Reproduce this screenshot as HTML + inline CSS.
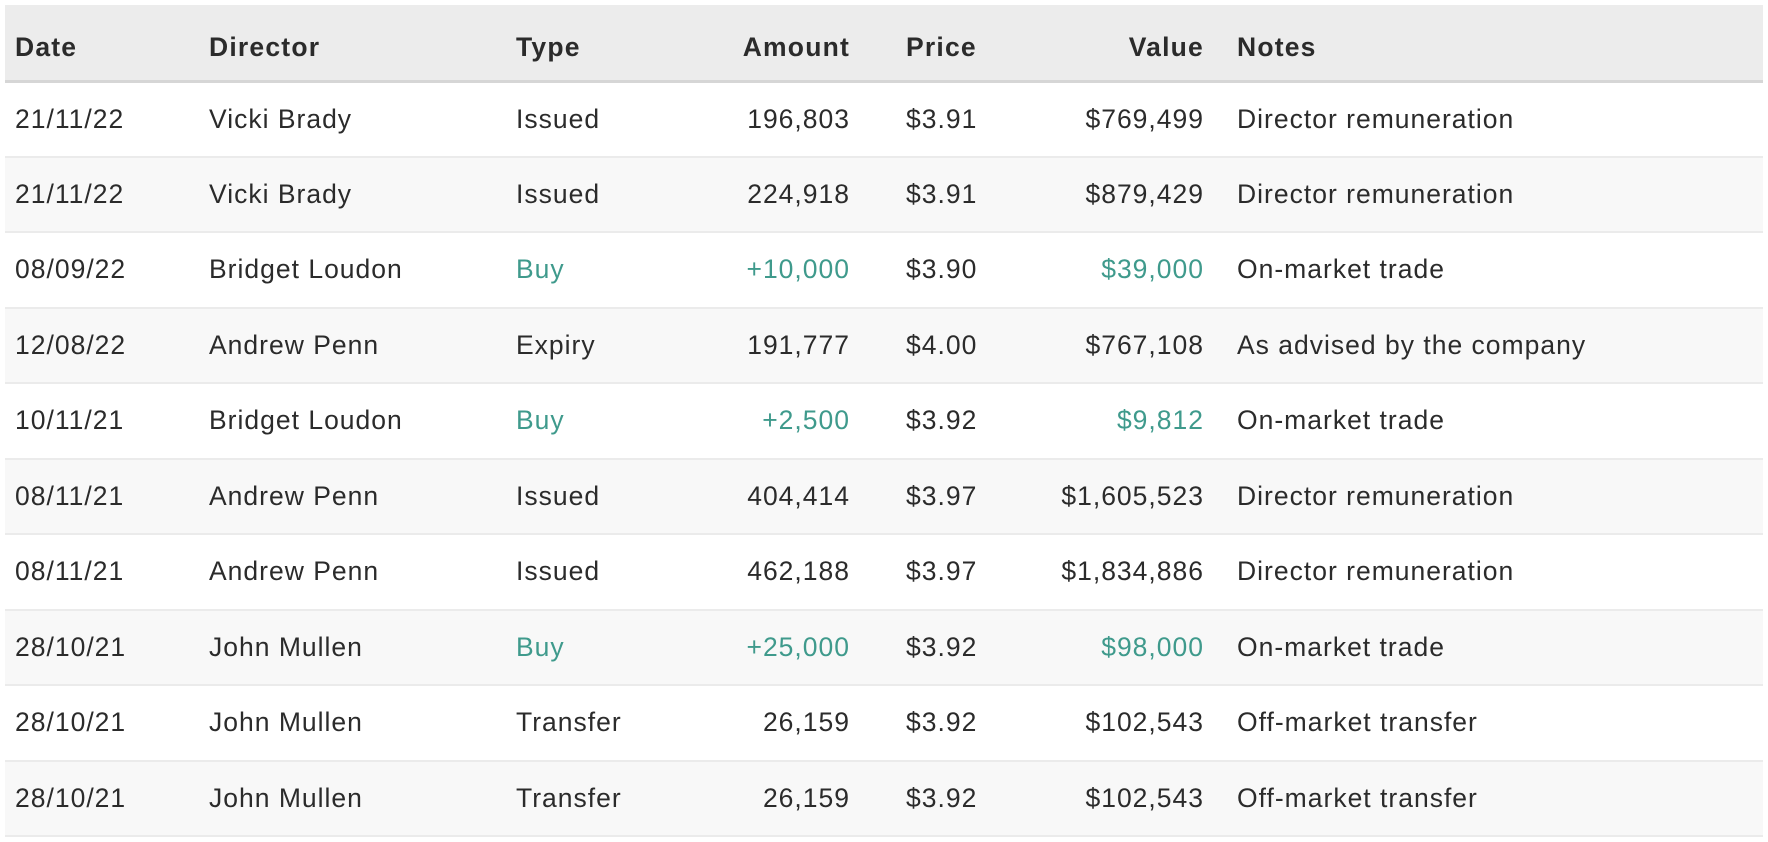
<!DOCTYPE html>
<html><head><style>
body{margin:0;background:#fff;width:1768px;height:842px;overflow:hidden;font-family:"Liberation Sans",sans-serif;color:#2b2b2b}
table{position:absolute;left:5px;top:5px;width:1758px;border-collapse:collapse;font-size:26.5px;letter-spacing:1px}
th,td{padding:0;white-space:nowrap}
thead tr{height:76px;background:#ececec;border-bottom:3px solid #d6d6d6}
th{font-weight:bold;text-align:left;letter-spacing:1.2px;padding-top:11px}
tbody tr{height:75.5px;border-bottom:2px solid #ebebeb}
tbody tr:nth-child(even){background:#f8f8f8}
.c1{padding-left:10px;width:194px}
.c2{width:307px}
.c3{width:206px}
.c4{width:128px;text-align:right}
.c5{padding-left:56px;width:100px}
.c6{width:198px;text-align:right}
.c7{padding-left:33px}
.g{color:#3f9a8c}
</style></head><body>
<table>
<thead><tr><th class="c1">Date</th><th class="c2">Director</th><th class="c3">Type</th><th class="c4">Amount</th><th class="c5">Price</th><th class="c6">Value</th><th class="c7">Notes</th></tr></thead>
<tbody>
<tr><td class="c1">21/11/22</td><td class="c2">Vicki Brady</td><td class="c3">Issued</td><td class="c4">196,803</td><td class="c5">$3.91</td><td class="c6">$769,499</td><td class="c7">Director remuneration</td></tr>
<tr><td class="c1">21/11/22</td><td class="c2">Vicki Brady</td><td class="c3">Issued</td><td class="c4">224,918</td><td class="c5">$3.91</td><td class="c6">$879,429</td><td class="c7">Director remuneration</td></tr>
<tr><td class="c1">08/09/22</td><td class="c2">Bridget Loudon</td><td class="c3 g">Buy</td><td class="c4 g">+10,000</td><td class="c5">$3.90</td><td class="c6 g">$39,000</td><td class="c7">On-market trade</td></tr>
<tr><td class="c1">12/08/22</td><td class="c2">Andrew Penn</td><td class="c3">Expiry</td><td class="c4">191,777</td><td class="c5">$4.00</td><td class="c6">$767,108</td><td class="c7">As advised by the company</td></tr>
<tr><td class="c1">10/11/21</td><td class="c2">Bridget Loudon</td><td class="c3 g">Buy</td><td class="c4 g">+2,500</td><td class="c5">$3.92</td><td class="c6 g">$9,812</td><td class="c7">On-market trade</td></tr>
<tr><td class="c1">08/11/21</td><td class="c2">Andrew Penn</td><td class="c3">Issued</td><td class="c4">404,414</td><td class="c5">$3.97</td><td class="c6">$1,605,523</td><td class="c7">Director remuneration</td></tr>
<tr><td class="c1">08/11/21</td><td class="c2">Andrew Penn</td><td class="c3">Issued</td><td class="c4">462,188</td><td class="c5">$3.97</td><td class="c6">$1,834,886</td><td class="c7">Director remuneration</td></tr>
<tr><td class="c1">28/10/21</td><td class="c2">John Mullen</td><td class="c3 g">Buy</td><td class="c4 g">+25,000</td><td class="c5">$3.92</td><td class="c6 g">$98,000</td><td class="c7">On-market trade</td></tr>
<tr><td class="c1">28/10/21</td><td class="c2">John Mullen</td><td class="c3">Transfer</td><td class="c4">26,159</td><td class="c5">$3.92</td><td class="c6">$102,543</td><td class="c7">Off-market transfer</td></tr>
<tr><td class="c1">28/10/21</td><td class="c2">John Mullen</td><td class="c3">Transfer</td><td class="c4">26,159</td><td class="c5">$3.92</td><td class="c6">$102,543</td><td class="c7">Off-market transfer</td></tr>
</tbody></table>
</body></html>
